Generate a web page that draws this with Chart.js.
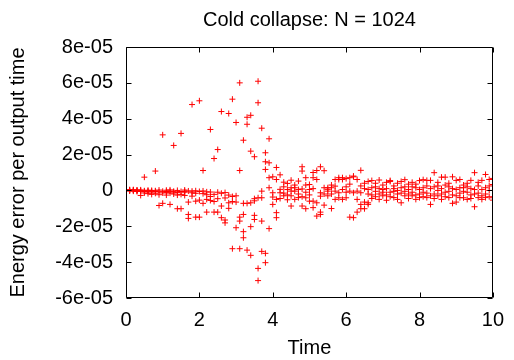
<!DOCTYPE html>
<html><head><meta charset="utf-8">
<script src="https://cdn.jsdelivr.net/npm/chart.js@4.4.0/dist/chart.umd.min.js"></script>
<style>html,body{margin:0;padding:0;background:#fff}#wrap{width:514px;height:360px}</style>
</head><body><div id="wrap"><canvas id="c" width="514" height="360"></canvas></div>
<script>
const chartTitle = 'Cold collapse: N = 1024';
const xTitle = 'Time';
const yTitle = 'Energy error per output time';
const xTickValues = [0, 2, 4, 6, 8, 10];
const xTickLabels = ['0', '2', '4', '6', '8', '10'];
const yTickValues = [8e-5, 6e-5, 4e-5, 2e-5, 0, -2e-5, -4e-5, -6e-5];
const yTickLabels = ['8e-05', '6e-05', '4e-05', '2e-05', '0', '-2e-05', '-4e-05', '-6e-05'];
// energy errors below are in units of 1e-6
const ERR_UNIT = 1e-6;
const times = [0,0.1,0.2,0.3,0.4,0.5,0.6,0.7,0.8,0.9,
 1,1.1,1.2,1.3,1.4,1.5,1.6,1.7,1.8,1.9,
 2,2.1,2.2,2.3,2.4,2.5,2.6,2.7,2.8,2.9,
 3,3.1,3.2,3.3,3.4,3.5,3.6,3.7,3.8,3.9,
 4,4.1,4.2,4.3,4.4,4.5,4.6,4.7,4.8,4.9,
 5,5.1,5.2,5.3,5.4,5.5,5.6,5.7,5.8,5.9,
 6,6.1,6.2,6.3,6.4,6.5,6.6,6.7,6.8,6.9,
 7,7.1,7.2,7.3,7.4,7.5,7.6,7.7,7.8,7.9,
 8,8.1,8.2,8.3,8.4,8.5,8.6,8.7,8.8,8.9,
 9,9.1,9.2,9.3,9.4,9.5,9.6,9.7,9.8,9.9,
 10];
const errA = [0.3,0.2,0.4,0.2,0.3,7.4,0.1,0.0,10.8,0.2,
 31.0,0.1,0.3,25.1,0.0,31.8,0.2,-13.4,47.9,-14.9,
 50.0,11.1,-12.1,34.0,17.8,22.8,44.0,-16.5,42.9,50.9,
 37.9,60.0,28.0,40.8,41.9,18.8,60.9,34.7,21.0,28.8,
 7.6,12.8,8.7,4.6,3.9,5.7,1.5,5.2,13.2,7.1,
 3.3,10.0,11.1,13.2,11.0,0.6,1.5,2.4,6.1,7.1,
 6.6,7.1,8.0,6.1,11.2,-6.5,5.0,5.5,2.0,5.8,
 3.0,4.5,5.5,2.5,4.0,5.0,6.0,3.5,2.0,1.5,
 5.5,6.0,5.6,5.6,9.9,2.5,7.4,7.4,2.0,7.6,
 5.6,6.1,3.0,2.0,5.6,9.9,2.5,5.6,8.9,6.1,
 6.7];
const errB = [0.0,-0.1,0.0,-0.3,-0.5,-0.2,-0.7,-0.4,-0.2,-0.8,
 -7.2,-0.6,-7.8,-0.5,-10.2,-10.2,-1.0,-15.6,-0.4,-6.0,
 -14.9,-7.2,-2.4,-0.9,-12.1,-12.1,-8.7,-18.1,-10.0,-32.5,
 -6.5,11.1,-13.4,36.9,21.9,-13.9,48.9,-0.4,16.0,15.4,
 -1.3,6.1,0.6,2.0,0.5,1.5,-0.4,0.5,10.8,3.0,
 0.5,7.1,6.1,-1.3,-8.2,1.5,-10.1,6.1,7.1,6.1,
 -4.1,-14.9,7.6,-5.0,-7.8,-10.2,-7.8,1.5,-0.5,1.0,
 -1.0,1.0,5.0,-0.5,0.0,-6.9,2.0,0.5,-1.0,-2.5,
 0.5,1.5,2.5,-7.8,2.0,0.0,1.0,3.0,-0.5,-7.2,
 -6.5,1.5,-4.1,-5.0,1.0,-9.1,-1.5,0.5,1.5,0.0,
 3.3];
const errC = [-0.2,0.4,-0.4,-0.6,-2.8,-1.4,-1.8,-2.2,-1.6,-8.4,
 -0.5,-2.6,-1.5,-2.0,-1.2,-0.6,-2.8,-6.5,-3.2,-1.6,
 -5.4,-1.8,-5.0,-3.4,-2.2,-4.6,-15.2,-4.2,-6.9,-3.4,
 -20.8,-14.9,-26.4,-33.3,-20.2,-16.2,-43.5,-17.1,11.7,7.1,
 -3.7,-12.4,-1.3,-1.5,-2.5,-0.4,-5.0,-2.0,-3.5,-4.1,
 -2.5,-6.0,-14.3,-3.2,1.5,-0.4,-2.0,-5.0,-4.1,-5.0,
 -1.0,-0.4,-15.2,-12.1,-10.2,1.0,-6.9,-2.5,-3.5,-2.0,
 -3.0,-2.5,-1.0,-4.0,-2.0,-1.5,-3.0,-4.5,-3.0,-5.0,
 -2.0,-1.0,-1.5,1.0,-2.0,-3.0,-2.0,-1.0,-4.0,1.0,
 0.5,-1.5,-0.5,-1.0,-2.5,0.5,-4.0,-3.0,-2.0,-3.5,
 -4.1];
const errD = [0.1,-0.3,0.2,0.1,-0.1,-0.6,-0.3,-0.9,-0.6,-2.4,
 -1.4,-1.1,-0.4,-0.9,-2.6,-2.2,-0.5,-0.3,-1.3,-0.2,
 -0.6,-0.3,-0.8,-5.6,-6.2,-1.0,-1.6,-1.2,-2.6,-6.2,
 -3.0,-17.1,-23.0,-7.2,-36.2,-4.6,-50.3,-34.0,-35.1,1.5,
 -7.8,-15.2,-4.5,-3.0,-5.2,-8.7,3.0,-4.0,-8.7,-10.2,
 -6.0,-9.6,-6.9,-13.4,-2.0,-3.0,3.0,-0.4,-1.3,0.5,
 2.0,3.5,-1.3,-0.4,-1.3,4.0,0.5,-4.5,4.0,-5.0,
 0.5,-5.5,-3.5,1.0,-5.0,1.5,-0.5,-2.0,4.5,3.5,
 -4.0,-3.5,-4.0,-3.0,-4.5,4.5,-5.0,-3.5,4.0,-2.5,
 -3.0,-4.0,1.5,4.0,-4.5,-2.0,4.5,-5.0,-4.0,2.5,
 -5.4];
const extraTimes = [3.1,3.2,3.4,3.5,3.6,3.7,3.8,3.9,4.1,4.5,4.8,4.9,5.1,5.3,6.4,6.6];
const extraErr = [-32.5,-7.2,-6.9,-5.8,-4.1,-4.1,-40.3,-21.3,-5.0,-3.0,0.8,-1.0,1.0,-12.1,2.5,-2.0];

const FONT = "'Liberation Sans', Arial, Helvetica, sans-serif";
const points = [];
[errA, errB, errC, errD].forEach(series => {
  series.forEach((v, i) => { if (v !== null) points.push({x: times[i], y: v * ERR_UNIT}); });
});
extraTimes.forEach((t, i) => points.push({x: t, y: extraErr[i] * ERR_UNIT}));

const frame = {
  id: 'frame',
  afterDatasetsDraw(chart) {
    const {ctx, chartArea: a, scales: {x, y}} = chart;
    const L = Math.round(a.left) + 0.5, R = Math.round(a.right) - 0.5;
    const T = Math.round(a.top) + 0.5, B = Math.round(a.bottom) - 0.5;
    const tl = 5;
    ctx.save();
    ctx.strokeStyle = '#000';
    ctx.lineWidth = 1;
    ctx.beginPath();
    ctx.moveTo(L, T); ctx.lineTo(R, T); ctx.lineTo(R, B); ctx.lineTo(L, B); ctx.closePath();
    xTickValues.forEach(v => {
      const px = Math.round(x.getPixelForValue(v)) + 0.5;
      ctx.moveTo(px, B); ctx.lineTo(px, B - tl);
      ctx.moveTo(px, T); ctx.lineTo(px, T + tl);
    });
    yTickValues.forEach(v => {
      const py = Math.round(y.getPixelForValue(v)) + 0.5;
      ctx.moveTo(L, py); ctx.lineTo(L + tl, py);
      ctx.moveTo(R, py); ctx.lineTo(R - tl, py);
    });
    ctx.stroke();
    ctx.restore();
  }
};

new Chart(document.getElementById('c'), {
  type: 'scatter',
  data: {
    datasets: [{
      data: points,
      pointStyle: 'cross',
      pointRadius: 3,
      pointBorderWidth: 1,
      borderColor: '#ff0000',
      backgroundColor: '#ff0000',
      pointHoverRadius: 3
    }]
  },
  options: {
    responsive: false,
    animation: false,
    devicePixelRatio: 1,
    layout: {padding: {left: 0, right: 16, top: 0, bottom: 0}},
    plugins: {
      legend: {display: false},
      tooltip: {enabled: false},
      title: {
        display: true, text: chartTitle, fullSize: false, color: '#000',
        font: {family: FONT, size: 20, weight: 'normal'},
        padding: {top: 8, bottom: 15}
      }
    },
    scales: {
      x: {
        type: 'linear', min: 0, max: 10,
        afterBuildTicks: s => { s.ticks = xTickValues.map(v => ({value: v})); },
        afterFit: s => { s.height = 62; },
        grid: {display: false, drawTicks: false},
        border: {display: false},
        ticks: {
          color: '#000', font: {family: FONT, size: 20}, padding: 10,
          maxRotation: 0, autoSkip: false,
          callback: v => xTickLabels[xTickValues.findIndex(t => Math.abs(t - v) < 1e-9)]
        },
        title: {display: true, text: xTitle, color: '#000', font: {family: FONT, size: 20}, padding: {top: 0, bottom: 0}}
      },
      y: {
        type: 'linear', min: -6e-5, max: 8e-5,
        afterBuildTicks: s => { s.ticks = yTickValues.map(v => ({value: v})); },
        afterFit: s => { s.width = 126; },
        grid: {display: false, drawTicks: false},
        border: {display: false},
        ticks: {
          color: '#000', font: {family: FONT, size: 20}, padding: 13, autoSkip: false,
          callback: v => yTickLabels[yTickValues.findIndex(t => Math.abs(t - v) < 1e-12)]
        },
        title: {display: true, text: yTitle, color: '#000', font: {family: FONT, size: 20}, padding: {top: 6, bottom: 0}}
      }
    }
  },
  plugins: [frame]
});
</script>
</body></html>
